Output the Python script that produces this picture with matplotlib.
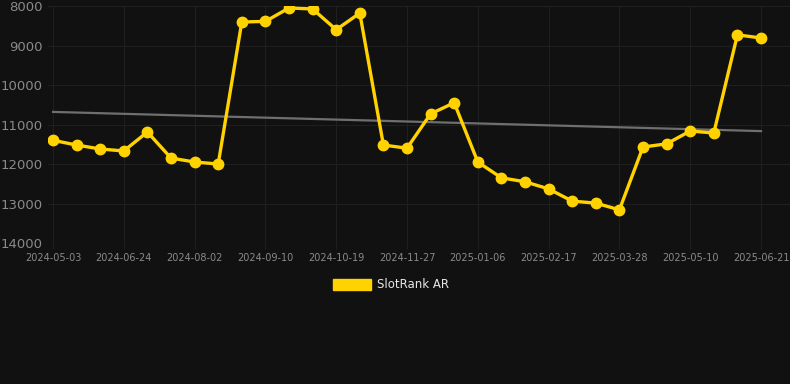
import matplotlib
matplotlib.use('Agg')
import matplotlib.pyplot as plt
import numpy as np

# rank values (lower number = better, axis inverted)
ranks = [11400, 11520, 11620, 11670, 11190, 11850, 11950, 12000,
         8405, 8390, 8050, 8075, 8600, 8180, 11520, 11600,
         10730, 10450, 11950, 12350, 12450, 12630, 12940, 12990,
         13160, 11570, 11490, 11165, 11215, 8730, 8810]
tick_labels = ["2024-05-03", "2024-06-24", "2024-08-02", "2024-09-10",
               "2024-10-19", "2024-11-27", "2025-01-06", "2025-02-17",
               "2025-03-28", "2025-05-10", "2025-06-21"]
y_ticks = [8000, 9000, 10000, 11000, 12000, 13000, 14000]
series_name = "SlotRank AR"

BG = "#111111"
GOLD = "#FFD200"

fig = plt.figure(figsize=(7.9, 3.84), dpi=100, facecolor=BG)
ax = fig.add_axes([48 / 790, 141 / 384, 742 / 790, 237 / 384], facecolor=BG)

x = np.arange(len(ranks))
# linear trend
k, b = np.polyfit(x, ranks, 1)
ax.plot(x, k * x + b, color="#6f6f6f", lw=1.6, zorder=2)

ax.plot(x, ranks, color=GOLD, lw=2.4, marker="o", markersize=7.5,
        zorder=3, label=series_name)

# px per index ~ 23.6; first point at 53px, axes left at 48px
step = (761 - 53) / (len(ranks) - 1)
ax.set_xlim(-5 / step, (790 - 53) / step)
ax.set_ylim(14000, 8000)

ax.set_xticks(x[::3])
ax.set_xticklabels(tick_labels)
ax.set_yticks(y_ticks)
ax.set_yticklabels([str(v) for v in y_ticks])

ax.grid(True, color="#1f1f1f", lw=0.8)
ax.set_axisbelow(True)
for s in ax.spines.values():
    s.set_visible(False)
ax.tick_params(axis="x", colors="#8a8a8a", labelsize=7, length=4,
               color="#1f1f1f", pad=3)
ax.tick_params(axis="y", colors="#8a8a8a", labelsize=9.5, length=0, pad=4)

handle = plt.Rectangle((0, 0), 1, 1, color=GOLD)
fig.legend([handle], [series_name], loc="center", bbox_to_anchor=(391 / 790, 1 - 285 / 384),
           frameon=False, labelcolor="#e6e6e6", fontsize=8.5,
           handlelength=3.2, handleheight=1.0, handletextpad=0.5)

fig.savefig("out.png", dpi=100, facecolor=BG)
